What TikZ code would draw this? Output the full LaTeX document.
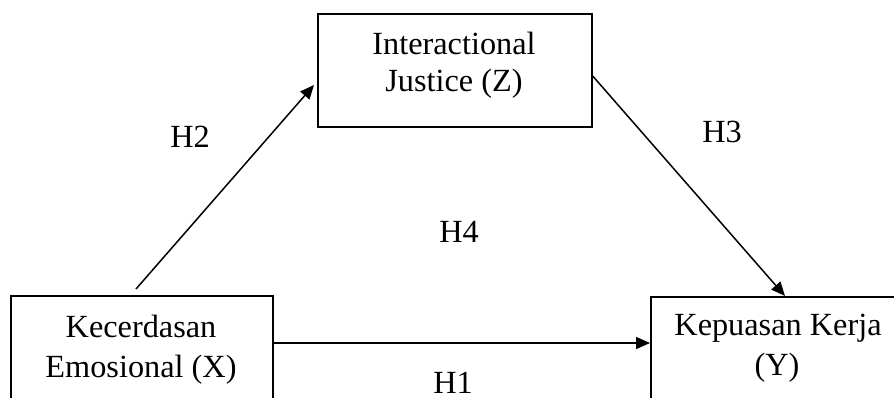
\documentclass[tikz,border=0pt]{standalone}
\usepackage{fontspec}
\setmainfont{Liberation Serif}
\usetikzlibrary{arrows.meta,calc}
\begin{document}
\begin{tikzpicture}[x=1pt,y=-1pt,
  box/.style={draw=black,line width=1.7pt,rectangle,inner sep=0pt,anchor=north west},
  txt/.style={font=\fontsize{32.3}{38}\selectfont,anchor=base,inner sep=0pt},
  arr/.style={draw=black,line width=1.5pt,-{Triangle[length=14pt,width=12pt]}}]
\useasboundingbox (0,0) rectangle (894,398);
\fill[white] (0,0) rectangle (894,398);
% boxes
\node[box,minimum width=274pt,minimum height=113pt] (z) at (317,13) {};
\node[box,minimum width=262pt,minimum height=150pt] (x) at (10,295) {};
\node[box,minimum width=270pt,minimum height=150pt] (y) at (650,296) {};
% box texts
\node[txt] (zt1) at (454,55) {Interactional};
\node[txt] (zt2) at (454,92) {Justice (Z)};
\node[txt] (xt1) at (141,337) {Kecerdasan};
\node[txt] (xt2) at (141,377) {Emosional (X)};
\node[txt] (yt1) at (778,335) {Kepuasan Kerja};
\node[txt] (yt2) at (777,375) {(Y)};
% hypothesis labels
\node[txt] (h1) at (453,393) {H1};
\node[txt] (h2) at (190,148) {H2};
\node[txt] (h3) at (722,143) {H3};
\node[txt] (h4) at (459,243) {H4};
% connectors
\coordinate (h2s) at ($(x.north west)+(126,-6)$);
\draw[arr] (h2s) -- ($(z.north west)+(-3,72)$);
\draw[arr] ($(z.north east)+(0,63)$) -- ($(y.north west)+(135,0)$);
\draw[arr] ($(x.north east)+(0,48)$) -- ($(y.north west)+(0,47)$);
\end{tikzpicture}
\end{document}
